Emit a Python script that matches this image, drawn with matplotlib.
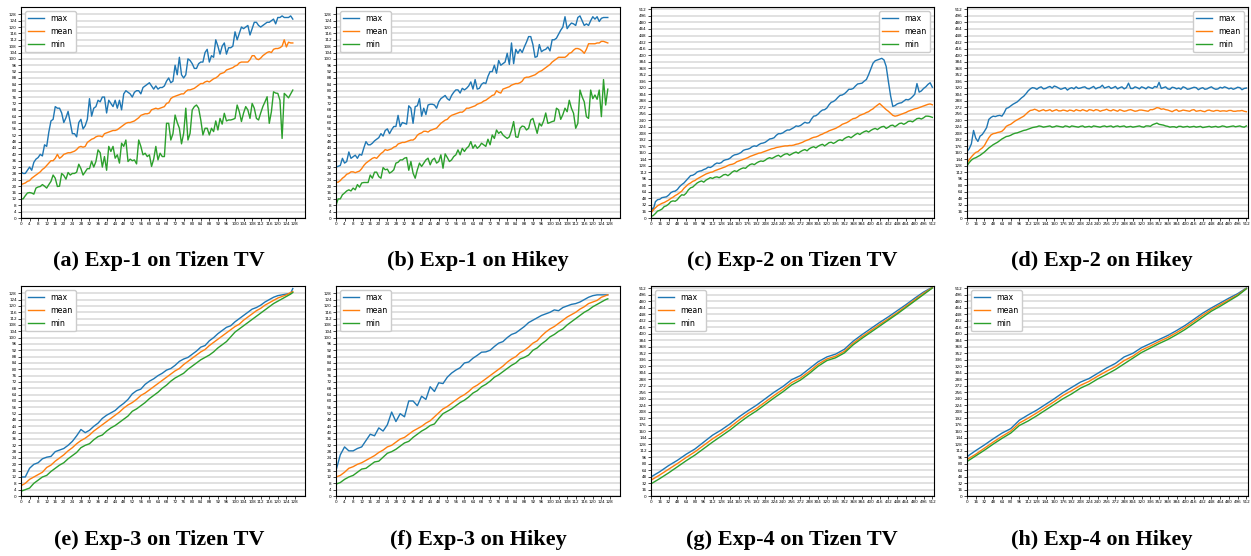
import numpy as np
import matplotlib
matplotlib.use("Agg")
import matplotlib.pyplot as plt

W, H = 1251, 556

# x positions (threads / iterations) for the different runs
steps_128 = np.arange(128)
steps_128_half = np.append(np.arange(0, 127, 2), 127)
steps_512_4 = np.arange(0, 513, 4)
steps_512_16 = np.arange(0, 513, 16)

# (a) Exp-1 on Tizen TV
exp1_tizen_max = [29, 28, 28, 30, 32, 30, 35, 37, 38, 40,
                  39, 46, 45, 54, 61, 62, 70, 69, 69, 66,
                  60, 63, 67, 60, 53, 53, 51, 60, 62, 56,
                  58, 62, 75, 64, 69, 70, 74, 73, 76, 76,
                  66, 74, 72, 70, 74, 69, 74, 68, 78, 80,
                  79, 78, 76, 79, 80, 80, 78, 82, 83, 84,
                  85, 83, 81, 83, 81, 82, 82, 83, 86, 88,
                  85, 86, 96, 90, 101, 90, 88, 90, 100, 99,
                  97, 94, 94, 97, 98, 98, 104, 106, 98, 102,
                  101, 112, 108, 103, 108, 110, 103, 107, 107, 108,
                  117, 112, 116, 120, 119, 120, 121, 115, 119, 123,
                  123, 121, 120, 121, 122, 123, 123, 124, 125, 122,
                  126, 126, 127, 126, 126, 126, 127, 125]
exp1_tizen_mean = [21, 21.5, 22, 23, 23.5, 25, 26, 27, 28, 29,
                   30.5, 31.5, 33, 34.5, 36, 36, 37.5, 40, 37.5, 38.5,
                   40, 40.5, 41, 41, 41.5, 42, 43, 44.5, 45, 44.5,
                   45, 47.5, 48.5, 49.5, 50, 51, 51.5, 51.5, 51, 53,
                   53.5, 54, 54.5, 55, 55, 55.5, 56.5, 57.5, 58.5, 59.5,
                   60, 60, 60.5, 61, 62, 63, 64.5, 65, 65.5, 65.5,
                   66, 68, 68.5, 69, 68.5, 69, 69.5, 70, 72, 72.5,
                   75, 76, 76.5, 77, 77.5, 78, 78, 79.5, 80.5, 80.5,
                   81, 81.5, 82.5, 83.5, 84.5, 84.5, 85.5, 86, 85.5, 86.5,
                   87.5, 88, 89, 90.5, 91, 91.5, 93, 93.5, 94, 94.5,
                   95.5, 96, 97.5, 98, 98, 98, 98, 99.5, 102, 102,
                   100, 99.5, 100.5, 102, 103, 104, 104.5, 104, 106, 106.5,
                   106.5, 107, 108, 112, 107.5, 110.5, 110, 110]
exp1_tizen_min = [12, 12, 14, 15.7, 16, 15.7, 15, 18.8, 19.5, 19.8,
                  21, 20, 18.8, 21, 23, 27, 25, 19.8, 20, 28,
                  26.7, 24.4, 28.6, 27, 28, 28, 28.8, 33.8, 31, 27,
                  29, 31, 31, 35.7, 32, 35.5, 42.8, 41, 32, 38.6,
                  30, 45, 41.8, 45, 37.6, 39.7, 34.5, 47, 45, 49,
                  35.5, 37, 36, 36.5, 34, 49, 45, 39.7, 40.7, 38.6,
                  39.7, 32.4, 37, 45, 36.5, 40.7, 38.6, 38.6, 59.5, 59.5,
                  49, 53, 64.7, 60, 56.4, 46.6, 53.2, 69, 49, 53.2,
                  67.9, 70, 71, 69, 61.6, 52.2, 56.4, 56.4, 52.2, 56.4,
                  54.3, 61, 55.3, 62.6, 59, 65.8, 61, 61.6, 61.6, 62,
                  62.6, 71, 66.8, 60.6, 66, 70, 67.9, 62.6, 72, 69,
                  62.6, 61.6, 66, 70, 73, 76.2, 59.5, 66.8, 79.3, 78.5,
                  78.3, 74, 50, 78.3, 77, 75.5, 78, 80.4]

# (b) Exp-1 on Hikey
exp1_hikey_max = [32, 32.5, 33, 37.5, 34.5, 35.5, 41.5, 37.5, 38.5, 39.5,
                  37.5, 40, 39.5, 44, 48, 46, 46, 47, 48.5, 49.5,
                  50.5, 53, 51.5, 55, 56, 53, 55.5, 57.5, 57.5, 64.5,
                  57.5, 60, 59.5, 59, 70.5, 69, 59.5, 70, 70.5, 75,
                  64, 69, 65, 71, 71.5, 71.5, 71, 69, 73, 75,
                  76, 77, 75, 74, 77, 79, 80.5, 80.5, 78.5, 81.5,
                  80.5, 81.5, 83, 85.5, 81, 87, 81, 81.5, 84, 85,
                  84.5, 89, 92, 92, 96, 91, 99, 96, 97, 98,
                  103.5, 96.5, 110, 97, 106, 103.5, 106, 104, 107.5, 110.5,
                  114, 114, 109, 101, 101.5, 109, 104.5, 105.5, 106, 107.5,
                  105, 112, 112, 113, 115.5, 118, 120, 126.5, 119, 121,
                  122.5, 122, 121, 126, 127, 124, 121, 122, 121, 124,
                  126.5, 125, 126.5, 123.5, 125.5, 126, 126, 126]
exp1_hikey_mean = [22.5, 22.5, 23.5, 25, 26, 27.5, 28, 29, 29, 28.5,
                   29, 29.5, 31, 33, 34.5, 35.5, 36.5, 37.5, 38, 37.5,
                   39, 40.5, 41.5, 43, 42.5, 43, 43.5, 44.5, 45, 46.5,
                   47, 47.5, 47.5, 48, 48.5, 49, 49, 50, 52, 53,
                   53.5, 54.5, 54.5, 54, 55, 55.5, 56, 56.5, 58, 59.5,
                   60.5, 61.5, 62, 63.5, 64.5, 65, 65.5, 66, 66.5, 66.5,
                   67.5, 69, 69, 69.5, 70, 70.5, 71.5, 72, 72.5, 73.5,
                   74, 75, 76, 77, 77.5, 80, 79, 78.5, 81, 81.5,
                   82, 82.5, 83.5, 84, 84.5, 84.5, 85, 86, 88, 88.5,
                   88.5, 89, 89.5, 90, 91, 92, 92.5, 93.5, 94.5, 95.5,
                   96.5, 98, 99, 100, 101, 101, 101, 101, 102, 103.5,
                   104, 105.5, 106.5, 106.5, 106, 105, 103.5, 106, 109.5, 109.5,
                   109.5, 109.5, 110, 110, 111, 111, 110.5, 110]
exp1_hikey_min = [8, 12, 12, 14.6, 15.7, 17, 17.7, 17, 18.8, 17.7,
                  21, 19.4, 22, 22.3, 22.3, 22.3, 27, 25, 28.8, 28.8,
                  26, 25, 31.7, 30.3, 30.7, 28.2, 29, 30.3, 34.5, 35,
                  36.5, 36.5, 37.6, 38, 30, 35.5, 28.2, 25, 30.3, 34.5,
                  32.4, 34.5, 36.5, 37.6, 33.4, 36.5, 37.6, 34.5, 35.5, 39.7,
                  31.3, 40.3, 38, 35.5, 36.5, 38.6, 39.7, 42.8, 39.7, 43.8,
                  41.8, 43.8, 45, 48, 43.8, 46, 43.8, 45, 47, 46,
                  45, 49.5, 46, 52.2, 50, 55.3, 53.2, 54.3, 52.2, 51,
                  50, 51, 55, 60.6, 51, 50.7, 56.4, 57.8, 57.4, 55.3,
                  56.4, 61.6, 62.6, 58, 53.2, 59.5, 57.8, 61, 66, 59.5,
                  60, 60.6, 61, 69, 68, 62, 65, 69, 66.8, 74,
                  69, 65.8, 56.4, 59.5, 80.4, 76.2, 73, 63.7, 62.6, 80.4,
                  75, 77.3, 74.6, 80.4, 63.7, 87, 71, 81]

# (c) Exp-2 on Tizen TV
exp2_tizen_max = [28, 20, 40, 45, 46, 50, 51, 52, 56, 62,
                  65, 66, 70, 77, 82, 86, 92, 98, 104, 105,
                  108, 113, 115, 116, 119, 121, 125, 124, 127, 132,
                  135, 134, 136, 141, 143, 144, 147, 152, 155, 156,
                  158, 161, 166, 168, 169, 171, 175, 177, 176, 180,
                  183, 184, 186, 190, 194, 195, 197, 203, 207, 207,
                  209, 213, 216, 216, 219, 222, 226, 225, 227, 231,
                  235, 233, 234, 243, 250, 251, 255, 261, 265, 266,
                  270, 278, 284, 286, 290, 296, 301, 302, 305, 310,
                  316, 316, 318, 324, 329, 330, 331, 336, 340, 352,
                  366, 380, 386, 388, 390, 392, 388, 372, 335, 300,
                  274, 276, 280, 282, 283, 287, 291, 290, 293, 298,
                  304, 330, 309, 312, 318, 322, 328, 332, 321]
exp2_tizen_mean = [12, 20, 25, 30, 33, 36, 38, 41, 44, 48,
                   51, 55, 58, 62, 66, 73, 78, 83, 86, 90,
                   92, 96, 99, 102, 105, 108, 110, 112, 113, 116,
                   118, 120, 122, 124, 126, 129, 131, 132, 134, 138,
                   140, 142, 144, 146, 148, 151, 153, 155, 157, 159,
                   160, 162, 164, 166, 168, 170, 171, 173, 174, 175,
                   176, 177, 177, 178, 178, 179, 181, 182, 184, 186,
                   189, 191, 193, 196, 198, 199, 201, 204, 206, 209,
                   211, 214, 216, 218, 220, 223, 226, 230, 232, 234,
                   237, 241, 244, 245, 248, 252, 254, 256, 259, 261,
                   265, 268, 273, 277, 281, 276, 271, 266, 262, 257,
                   252, 250, 251, 253, 255, 257, 259, 262, 264, 266,
                   268, 269, 271, 273, 275, 277, 279, 280, 278]
exp2_tizen_min = [4, 6, 11, 17, 19, 22, 28, 30, 34, 40,
                  42, 41, 45, 52, 57, 56, 61, 69, 74, 76,
                  81, 86, 89, 91, 88, 93, 96, 99, 97, 100,
                  101, 99, 102, 106, 107, 104, 108, 113, 116, 114,
                  118, 121, 123, 122, 127, 131, 133, 131, 135, 138,
                  140, 139, 142, 146, 148, 146, 149, 152, 154, 150,
                  154, 157, 158, 154, 157, 160, 162, 159, 163, 166,
                  168, 165, 170, 173, 175, 172, 176, 179, 181, 177,
                  181, 185, 186, 183, 186, 190, 192, 190, 195, 198,
                  200, 197, 201, 205, 208, 205, 209, 212, 214, 211,
                  215, 218, 220, 217, 221, 224, 225, 220, 223, 227,
                  228, 224, 228, 232, 233, 230, 233, 237, 238, 236,
                  240, 244, 245, 243, 246, 250, 250, 249, 247]

# (d) Exp-2 on Hikey
exp2_hikey_max = [163, 170, 182, 215, 196, 188, 201, 205, 213, 222,
                  242, 247, 250, 249, 251, 252, 250, 258, 269, 271,
                  275, 279, 282, 285, 290, 295, 299, 305, 312, 317,
                  320, 319, 316, 320, 322, 317, 318, 321, 323, 319,
                  324, 322, 319, 316, 318, 320, 314, 318, 320, 317,
                  322, 318, 319, 321, 322, 318, 317, 320, 323, 317,
                  320, 321, 326, 319, 321, 323, 318, 320, 323, 317,
                  320, 322, 317, 320, 331, 318, 318, 322, 320, 317,
                  322, 320, 317, 322, 320, 318, 323, 321, 333, 318,
                  320, 322, 317, 316, 321, 320, 317, 319, 316, 322,
                  320, 316, 317, 319, 321, 320, 315, 318, 320, 316,
                  317, 320, 322, 318, 316, 317, 321, 319, 322, 320,
                  317, 319, 316, 318, 321, 320, 315, 318, 319]
exp2_hikey_mean = [135, 143, 150, 156, 161, 163, 168, 172, 178, 188,
                   197, 204, 207, 208, 210, 211, 213, 218, 225, 228,
                   230, 234, 238, 241, 244, 247, 250, 255, 260, 264,
                   265, 267, 265, 262, 264, 266, 263, 264, 266, 262,
                   264, 266, 263, 263, 265, 264, 262, 265, 264, 262,
                   266, 264, 263, 266, 264, 262, 266, 265, 263, 266,
                   265, 262, 264, 265, 267, 264, 263, 266, 264, 262,
                   266, 264, 262, 263, 265, 266, 264, 262, 263, 265,
                   265, 264, 263, 262, 266, 266, 268, 271, 270, 267,
                   268, 266, 265, 263, 261, 264, 266, 262, 263, 265,
                   264, 263, 262, 265, 266, 262, 263, 264, 262, 261,
                   264, 265, 263, 262, 264, 264, 262, 263, 263, 262,
                   264, 264, 262, 262, 263, 263, 264, 262, 261]
exp2_hikey_min = [128, 136, 142, 146, 148, 151, 154, 158, 162, 167,
                  172, 176, 180, 183, 186, 190, 194, 197, 200, 201,
                  203, 206, 208, 209, 211, 213, 215, 216, 218, 220,
                  222, 223, 224, 226, 225, 223, 224, 225, 226, 223,
                  224, 226, 225, 224, 223, 226, 225, 223, 226, 225,
                  224, 223, 225, 226, 223, 224, 225, 223, 226, 225,
                  224, 223, 225, 226, 224, 225, 226, 223, 225, 226,
                  224, 225, 226, 223, 224, 225, 223, 224, 225, 226,
                  224, 223, 226, 226, 225, 229, 231, 233, 230, 229,
                  228, 226, 225, 223, 224, 224, 222, 225, 225, 223,
                  224, 225, 223, 224, 225, 223, 224, 225, 222, 223,
                  224, 225, 223, 224, 225, 223, 224, 226, 225, 223,
                  224, 225, 226, 224, 225, 226, 224, 223, 226]

# (e) Exp-3 on Tizen TV
exp3_tizen_max = [12, 12, 17.5, 20, 21, 23.5, 24.5, 25, 28, 29,
                  30, 32, 34.5, 38, 42, 40, 41.5, 44, 46, 49,
                  51, 52.5, 54, 56.5, 58.5, 61, 64.5, 66.5, 67.5, 70.5,
                  72.5, 74, 76, 77.5, 79.5, 80.5, 82.5, 85, 86.5, 87.5,
                  89.5, 91.5, 94, 95, 98, 100, 102.5, 104.5, 106.5, 107.5,
                  110, 112, 114, 116, 118, 119, 120.5, 122.5, 124, 125.5,
                  126.5, 127, 127.5, 128, 131]
exp3_tizen_mean = [6.5, 8, 10.5, 12, 13.5, 15, 18, 19.5, 22, 24,
                   26, 28.5, 30.5, 33, 35, 36.5, 38.5, 41, 43, 45,
                   47, 49, 51, 53, 55.5, 57.5, 59, 61, 63.5, 65,
                   67, 69, 71, 73, 75, 77, 79, 80.5, 83, 85,
                   87, 89, 91, 92.5, 95, 97, 99, 101, 103, 105,
                   107, 108.5, 111, 113, 115, 117, 118.5, 120.5, 122, 123.5,
                   125, 126, 127, 128.5, 129]
exp3_tizen_min = [3, 4, 5, 8, 10, 12, 13, 15.5, 17.5, 19.5,
                  21, 23.5, 25.5, 27.5, 30.5, 32, 33, 35.5, 37.5, 38.5,
                  41, 43, 44.5, 46.5, 48.5, 50.5, 53.5, 55, 57, 59,
                  61.5, 63.5, 65.5, 68, 70, 72.5, 74.5, 76, 77.5, 80,
                  82, 84, 86, 87.5, 89, 91, 93.5, 95.5, 97.5, 100.5,
                  103.5, 105.5, 107.5, 109.5, 111.5, 113.5, 115.5, 117.5, 119.5, 121.5,
                  123, 124.5, 126, 127.5, 128.5]

# (f) Exp-3 on Hikey
exp3_hikey_max = [16, 26, 31, 28.5, 28.5, 30, 31, 35, 39, 38,
                  43, 41, 45, 53, 47, 52, 50, 60, 60, 57,
                  63, 61, 69, 66, 71.5, 71, 75, 77.6, 79.5, 81,
                  84, 84.6, 87, 88.8, 90.8, 91, 92, 94.4, 96.5, 97.5,
                  100, 102, 103, 105, 107, 109.5, 111, 112.5, 114, 115,
                  116, 117.5, 117, 119, 120, 121, 121.5, 122.5, 124, 125.5,
                  126.5, 127, 127, 127, 127]
exp3_hikey_mean = [12, 13, 15, 17.5, 18.5, 20, 21, 22.5, 24, 25.5,
                   27.5, 29, 31, 32, 34, 36, 37, 39, 41, 42.5,
                   44, 46, 47.5, 50, 52.5, 55, 56.5, 58.5, 60.5, 62.5,
                   64, 66, 68.5, 70, 72, 74, 76, 78, 80, 82,
                   84.5, 86.5, 88, 90.5, 92, 94, 96.5, 98, 101, 103.5,
                   105.5, 107, 109, 111, 113, 114.5, 116, 118, 119.5, 121.5,
                   122.5, 123.5, 125.5, 126.5, 127]
exp3_hikey_min = [7.5, 8.5, 10.5, 12, 13, 15, 17, 17.5, 19.5, 21.5,
                  22, 24.5, 27, 28, 29.5, 31.5, 33.5, 34.5, 37, 39,
                  41, 42.5, 44.5, 45.5, 49, 52, 53.5, 55, 57, 59,
                  60.5, 62.5, 65, 66.5, 69, 70.5, 72.5, 75, 76.5, 78.5,
                  80.5, 82.5, 84, 86.5, 87.5, 89, 92, 93.5, 96, 98,
                  100.5, 102, 104, 105.5, 108, 110, 112, 114, 116, 117.5,
                  119.5, 121, 122.5, 124, 124.5]

# (g) Exp-4 on Tizen TV
exp4_tizen_max = [47, 60, 75, 88, 103, 116, 133, 150, 163, 178, 195,
                  210, 224, 240, 256, 270, 287, 297, 314, 331, 343, 350,
                  362, 382, 398, 413, 428, 442, 457, 472, 488, 503, 515]
exp4_tizen_mean = [39, 52, 66, 80, 95, 109, 125, 141, 155, 170, 187,
                   203, 216, 232, 248, 263, 280, 291, 307, 325, 338, 345,
                   357, 377, 393, 408, 423, 437, 452, 468, 484, 500, 514]
exp4_tizen_min = [30, 43, 57, 72, 87, 101, 117, 133, 148, 163, 180,
                  196, 210, 226, 242, 257, 274, 286, 302, 320, 334, 341,
                  353, 373, 389, 404, 419, 434, 449, 465, 481, 497, 513]

# (h) Exp-4 on Hikey
exp4_hikey_max = [97, 112, 126, 141, 155, 166, 187, 200, 212, 226, 240,
                  255, 268, 281, 290, 303, 316, 327, 343, 352, 366, 376,
                  386, 396, 408, 421, 436, 451, 464, 476, 488, 499, 513]
exp4_hikey_mean = [90, 103, 118, 133, 147, 160, 180, 192, 205, 219, 233,
                   248, 260, 273, 283, 296, 308, 319, 334, 345, 360, 370,
                   381, 391, 403, 416, 431, 446, 460, 472, 484, 496, 512]
exp4_hikey_min = [85, 99, 113, 128, 142, 155, 174, 185, 198, 212, 226,
                  240, 252, 266, 276, 289, 300, 312, 326, 340, 354, 365,
                  376, 386, 398, 411, 426, 441, 456, 468, 481, 494, 511]

captions = ["(a) Exp-1 on Tizen TV", "(b) Exp-1 on Hikey",
            "(c) Exp-2 on Tizen TV", "(d) Exp-2 on Hikey",
            "(e) Exp-3 on Tizen TV", "(f) Exp-3 on Hikey",
            "(g) Exp-4 on Tizen TV", "(h) Exp-4 on Hikey"]

panels = [
    (steps_128, exp1_tizen_max, exp1_tizen_mean, exp1_tizen_min, 128),
    (steps_128, exp1_hikey_max, exp1_hikey_mean, exp1_hikey_min, 128),
    (steps_512_4, exp2_tizen_max, exp2_tizen_mean, exp2_tizen_min, 512),
    (steps_512_4, exp2_hikey_max, exp2_hikey_mean, exp2_hikey_min, 512),
    (steps_128_half, exp3_tizen_max, exp3_tizen_mean, exp3_tizen_min, 128),
    (steps_128_half, exp3_hikey_max, exp3_hikey_mean, exp3_hikey_min, 128),
    (steps_512_16, exp4_tizen_max, exp4_tizen_mean, exp4_tizen_min, 512),
    (steps_512_16, exp4_hikey_max, exp4_hikey_mean, exp4_hikey_min, 512),
]

# pixel boxes (left, right) per column, (top, bottom) per row
col_px = [(21, 305), (336, 620), (651, 934), (967, 1248)]
row_px = [(7, 218), (286, 496)]
caption_x = [159, 478, 792, 1102]
caption_y = [261, 540]

fig = plt.figure(figsize=(W / 100, H / 100), dpi=100)

for i, (x, mx, mean, mn, n) in enumerate(panels):
    r, c = divmod(i, 4)
    l, rr = col_px[c]
    t, b = row_px[r]
    ax = fig.add_axes([l / W, 1 - b / H, (rr - l) / W, (b - t) / H])

    ax.plot(x, mx, color='C0', lw=1.0, label='max')
    ax.plot(x, mean, color='C1', lw=1.0, label='mean')
    ax.plot(x, mn, color='C2', lw=1.0, label='min')

    ticks = np.arange(0, n + 1, n // 32)
    ax.set_xticks(ticks)
    ax.set_yticks(ticks)
    if n == 128:
        ax.set_xlim(0, 132.7)
        ax.set_ylim(0, 132.6)
    else:
        ax.set_xlim(0, 515)
        ax.set_ylim(0, 518)
    ax.tick_params(labelsize=3, length=2, width=0.5, pad=1)
    ax.grid(axis='y', color='#e1e1e1', lw=1.4)
    ax.set_axisbelow(True)
    for s in ax.spines.values():
        s.set_linewidth(0.8)

    loc = 'upper right' if i in (2, 3) else 'upper left'
    ax.legend(loc=loc, fontsize=5.7, framealpha=1)

    fig.text(caption_x[c] / W, 1 - caption_y[r] / H, captions[i],
             ha='center', va='center', fontsize=16, fontweight='bold',
             family='Liberation Serif')

fig.savefig('out.png', dpi=100)
